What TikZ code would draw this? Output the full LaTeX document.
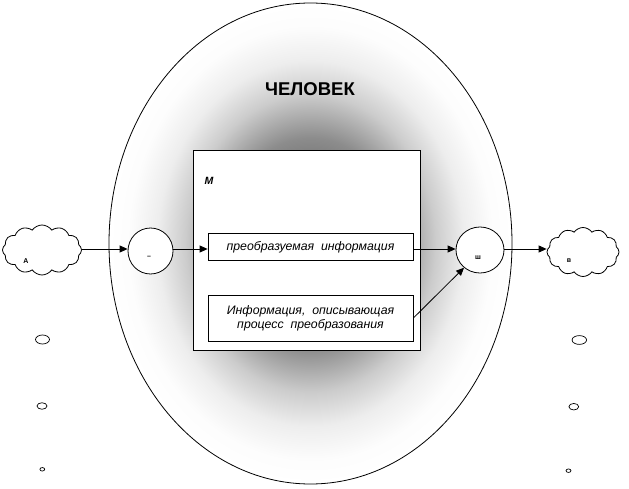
\documentclass[tikz,border=0pt]{standalone}
\usepackage{fontspec}
\setmainfont{Liberation Sans}
\usetikzlibrary{shapes.geometric,shapes.symbols,arrows.meta}
\pgfdeclareradialshading{humanshade}{\pgfpoint{0bp}{0bp}}{color(0bp)=(black!62); color(7bp)=(black!57); color(11bp)=(black!45); color(15.5bp)=(black!20); color(19bp)=(black!7); color(22.5bp)=(black!1); color(25bp)=(white); color(50bp)=(white)}
\tikzset{
  ln/.style={line width=0.8pt, draw=black},
  arr/.style={ln, -{Triangle[length=8pt,width=7pt]}},
  infobox/.style={ln, fill=white, rectangle, inner sep=0pt, font=\itshape\fontsize{12.3}{14}\selectfont, align=center},
  opcirc/.style={ln, ellipse, fill=white, inner sep=0pt},
  cloudnode/.style={ln, cloud, cloud puffs=12, cloud puff arc=110, aspect=1.6, fill=white, inner sep=0pt},
  dot/.style={line width=0.7pt, draw=black, ellipse, inner sep=0pt},
  tiny/.style={font=\bfseries\fontsize{7}{8}\selectfont}
}
\begin{document}
\begin{tikzpicture}[x=1pt,y=-1pt]
\useasboundingbox (0,0) rectangle (629,489);
\fill[white] (0,0) rectangle (629,489);
% human ellipse
\node[ellipse, ln, minimum width=403pt, minimum height=481pt, inner sep=0pt, shading=humanshade] (human) at (310.5,243.5) {};
\node[font=\bfseries\fontsize{18.5}{21}\selectfont] (title) at (310,89) {ЧЕЛОВЕК};
% machine rectangle
\node[ln, fill=white, rectangle, minimum width=227pt, minimum height=200pt, inner sep=0pt] (M) at (306.5,250) {};
\node[font=\bfseries\itshape\fontsize{10.5}{12}\selectfont] (Mlab) at (209,181) {M};
% info boxes
\node[infobox, minimum width=205pt, minimum height=27pt] (b1) at (310.5,247) {преобразуемая\ \ информация};
\node[infobox, minimum width=205pt, minimum height=46pt] (b2) at (310.5,318) {Информация,\ \ описывающая\\процесс\ \ преобразования};
% circles
\node[opcirc, minimum width=45pt, minimum height=46pt] (cl) at (150.5,251) {};
\node[tiny] (cllab) at (149,257) {–};
\node[opcirc, minimum width=48pt, minimum height=46pt] (cr) at (480,250) {};
\node[tiny] (crlab) at (478,258) {ш};
% clouds
\node[cloudnode, minimum width=79pt, minimum height=50pt] (cA) at (42,250) {};
\node[tiny] (cAlab) at (26,261) {А};
\node[cloudnode, minimum width=72pt, minimum height=49pt] (cB) at (583,252) {};
\node[tiny] (cBlab) at (569,261) {в};
% connectors
\draw[arr] (cA.east |- 0,249) coordinate (a1) -- (cl.west |- a1);
\draw[arr] (cl.east |- 0,249) -- (b1.west |- 0,249);
\draw[arr] (b1.east |- 0,249) -- (cr.west |- 0,249);
\draw[arr] (b2.east) -- (cr.-132);
\draw[arr] (cr.east |- 0,249) -- (cB.west |- 0,249);
% small bubbles
\node[dot, minimum width=14pt, minimum height=9pt] (l1) at (42.5,339.5) {};
\node[dot, minimum width=10pt, minimum height=6.5pt] (l2) at (42,406) {};
\node[dot, minimum width=4.8pt, minimum height=3.5pt] (l3) at (42.3,469.3) {};
\node[dot, minimum width=14.5pt, minimum height=8.8pt] (r1) at (579.3,340) {};
\node[dot, minimum width=9.8pt, minimum height=6.5pt] (r2) at (573.8,406.7) {};
\node[dot, minimum width=5pt, minimum height=3.5pt] (r3) at (568.5,470.7) {};
\end{tikzpicture}
\end{document}
